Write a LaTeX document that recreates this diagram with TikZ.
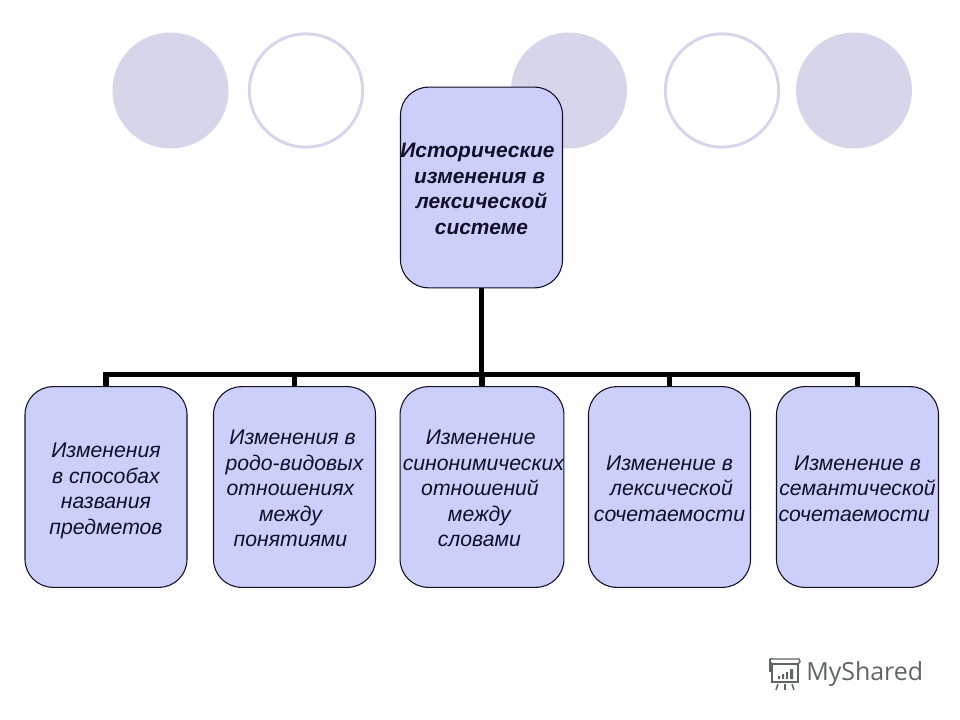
\documentclass[tikz,border=0pt]{standalone}
\usepackage{fontspec}
\setmainfont{Liberation Sans}
\newfontfamily\logofont{Open Sans}
\definecolor{boxfill}{HTML}{CCCFFA}
\definecolor{boxline}{HTML}{10102A}
\definecolor{disc}{HTML}{D5D6E9}
\definecolor{logogray}{HTML}{5E6662}
\newcommand{\lowertext}{\rule{0pt}{13.5pt}}
\tikzset{
  x=0.75pt,y=-0.75pt,
  discfill/.style={circle,fill=disc,draw=none,minimum size=87pt,inner sep=0pt},
  discring/.style={circle,fill=white,draw=disc,line width=2.2pt,minimum size=85pt,inner sep=0pt},
  box/.style={draw=boxline,fill=boxfill,line width=0.8pt,rounded corners=21pt,minimum width=121.5pt,minimum height=150.5pt,inner sep=0pt,align=center,text=boxline,font=\fontsize{15.9}{19.1}\selectfont\itshape},
  topbox/.style={box,font=\fontsize{15.7}{19.1}\selectfont\itshape\bfseries},
  conn/.style={draw=black,line width=4.4pt,line join=miter},
  stub/.style={draw=black,line width=3.8pt},
  logoline/.style={draw=logogray,line width=1.1pt}
}
\begin{document}
\begin{tikzpicture}
\useasboundingbox (0,0) rectangle (960,720);
\fill[white] (0,0) rectangle (960,720);
\node[discfill] (c1) at (170.5,90.5) {};
\node[discring] (c2) at (306,90.5) {};
\node[discfill] (c3) at (569,90.5) {};
\node[discring] (c4) at (722,90.5) {};
\node[discfill] (c5) at (854,90.5) {};
\coordinate (bus) at (481.5,374.5);
\node[topbox] (top) at (481.5,187.5) {\rule{0pt}{12.7pt}\hspace*{-6pt}Исторические\\\hspace*{-3pt}изменения в\\лексической\\системе};
\node[box] (a) at (106,487) {\rule{0pt}{16.5pt}Изменения\\в способах\\названия\\предметов};
\node[box] (b) at (294.5,487) {\lowertext\hspace*{-3pt}Изменения в\\родо-видовых\\\hspace*{-6pt}отношениях\\\hspace*{-6pt}между\\\hspace*{-6pt}понятиями};
\node[box] (d) at (482,487) {\lowertext\hspace*{-2pt}Изменение\\\hspace*{2pt}синонимических\\\hspace*{-3pt}отношений\\\hspace*{-4pt}между\\\hspace*{-4pt}словами};
\node[box] (e) at (669.5,487) {\lowertext Изменение в\\\hspace*{3pt}лексической\\сочетаемости};
\node[box] (f) at (857.5,487) {\lowertext Изменение в\\семантической\\\hspace*{-5pt}сочетаемости};
\draw[conn] (top.south) -- (bus);
\draw[stub] (a.north) |- (bus);
\draw[stub] (b.north) |- (bus);
\draw[stub] (d.north) |- (bus);
\draw[stub] (e.north) |- (bus);
\draw[stub] (f.north) |- (bus);
% logo
\node[text=logogray,font=\logofont\fontsize{18.7}{19}\selectfont,anchor=west,inner sep=0pt] (logo) at (806,674) {MyShared};
\draw[logoline] (772,664) rectangle (798,682);
\draw[logoline] (772,664) .. controls (768,660) and (770,658) .. (773,659) -- (799,659) .. controls (801,660) and (800,663) .. (798,664);
\draw[logoline] (770,660) -- (770,672);
\draw[logoline] (778,684) -- (776,690);
\draw[logoline] (785,684) -- (785,690);
\draw[logoline] (792,684) -- (794,690);
\fill[logogray] (778,676) rectangle (780,679) (782,674) rectangle (784,679) (786,672) rectangle (788,679) (790,669) rectangle (793,679);
\end{tikzpicture}
\end{document}
